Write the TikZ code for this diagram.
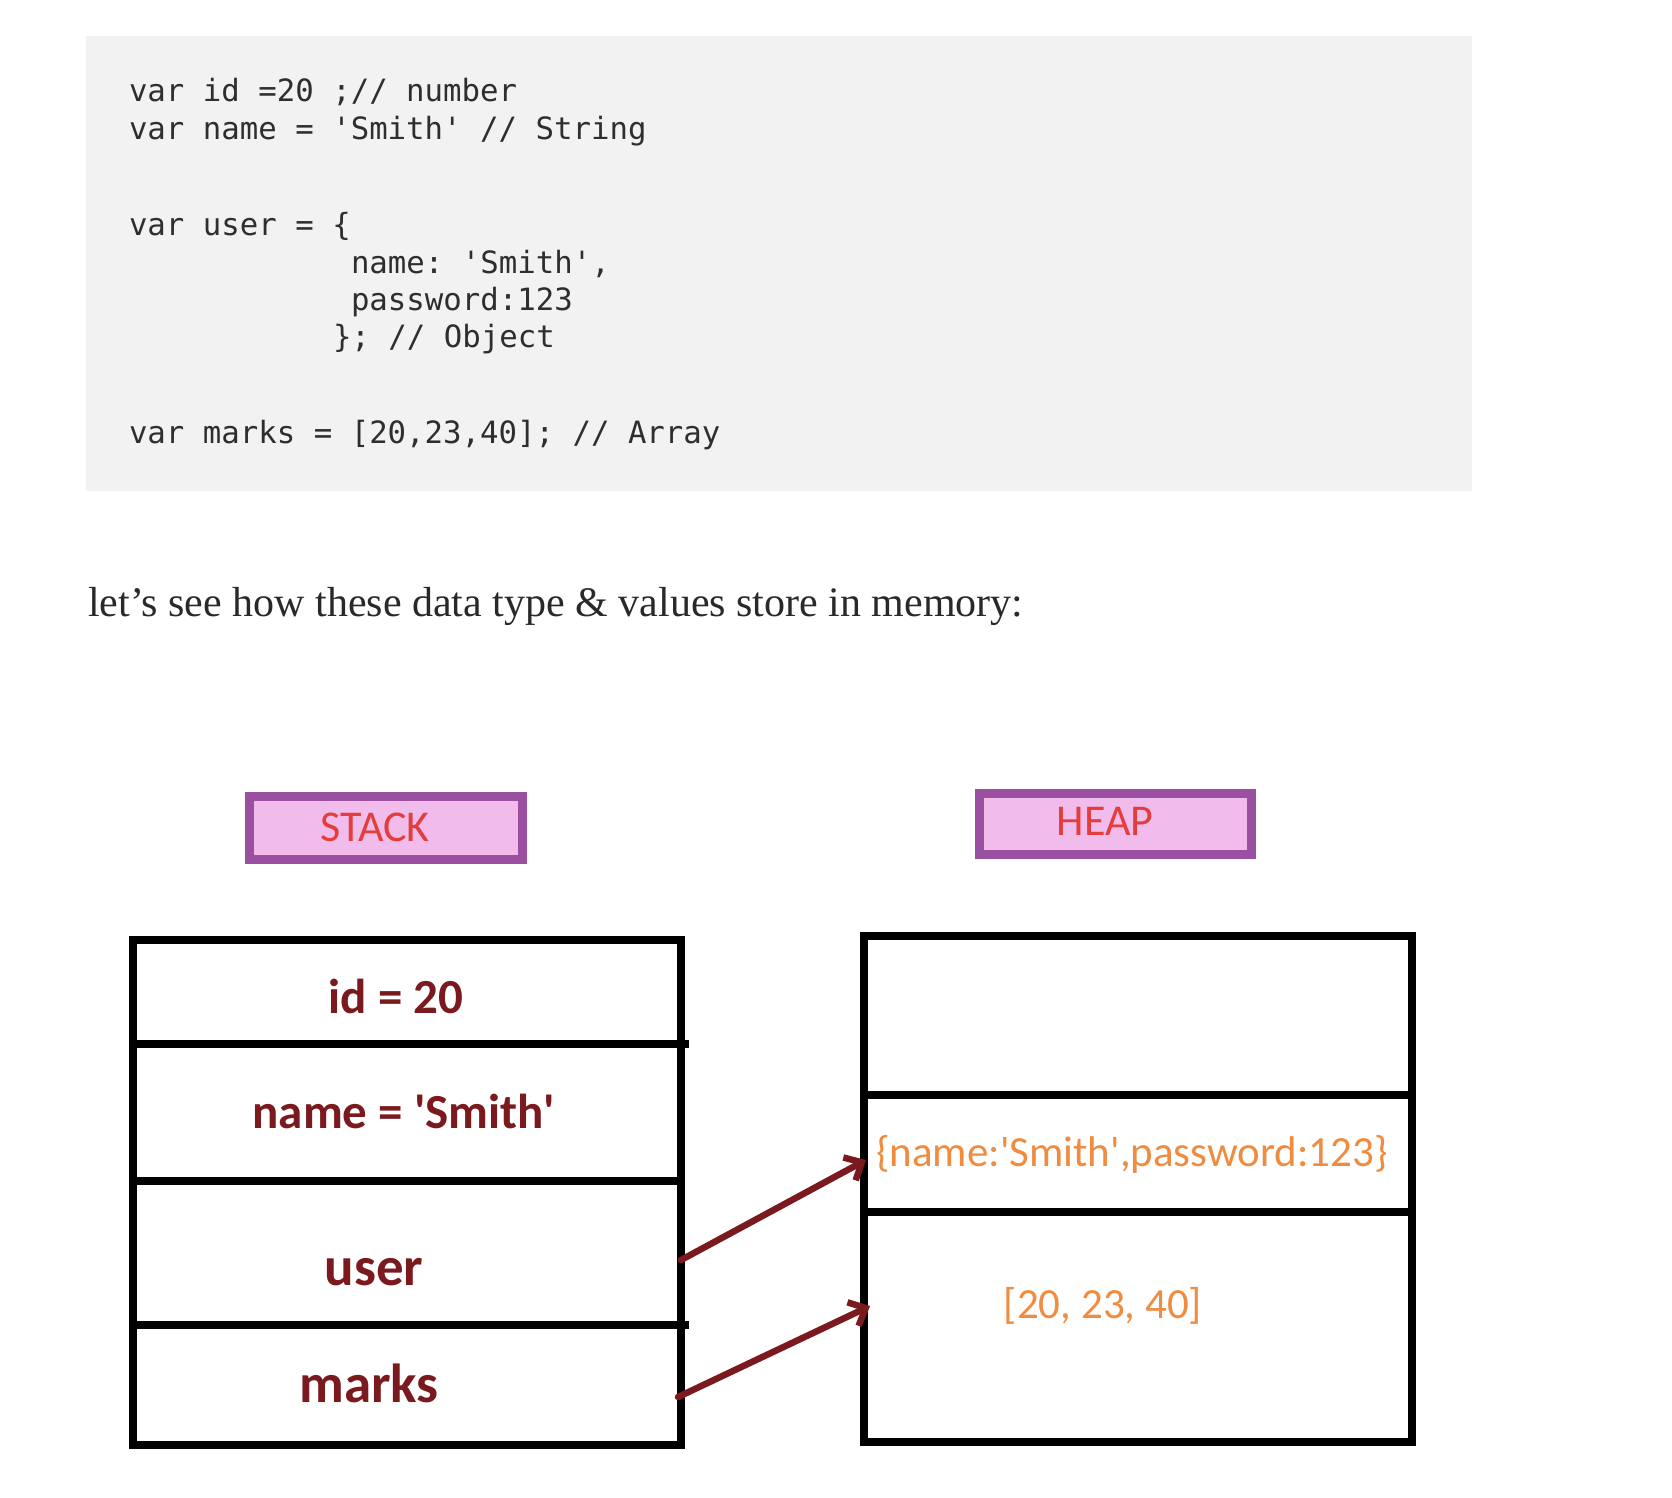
\documentclass[tikz,border=0pt]{standalone}
\usepackage{fontspec}
\setmainfont{Liberation Serif}
\newfontfamily\codefont[Ligatures=TeXOff]{DejaVu Sans Mono}
\newfontfamily\calfont[Ligatures=TeXOff]{Carlito}
\usetikzlibrary{arrows.meta}
\definecolor{codebg}{HTML}{F2F2F2}
\definecolor{codetxt}{HTML}{2E2E2E}
\definecolor{paratxt}{HTML}{292929}
\definecolor{tagborder}{HTML}{9B4FA0}
\definecolor{tagfill}{HTML}{F1BCEC}
\definecolor{tagtxt}{HTML}{E33E3B}
\definecolor{maroon}{HTML}{7B1A1E}
\definecolor{orangetxt}{HTML}{F08C40}
\tikzset{
  code/.style={anchor=base west, inner sep=0pt, outer sep=0pt, text=codetxt,
    font=\codefont\frenchspacing\fontsize{30.7}{36}\selectfont},
  para/.style={anchor=base west, inner sep=0pt, outer sep=0pt, text=paratxt,
    font=\fontsize{42}{50}\selectfont},
  tag/.style={draw=tagborder, fill=tagfill, line width=9pt, inner sep=0pt, outer sep=0pt},
  tagtext/.style={inner sep=0pt, text=tagtxt, font=\calfont\fontsize{44}{52}\selectfont},
  cell/.style={draw=black, line width=8.5pt, minimum width=548pt, inner sep=0pt, outer sep=0pt},
  stktext/.style={inner sep=0pt, text=maroon, font=\calfont\bfseries\fontsize{49}{58}\selectfont},
  bigstk/.style={stktext, font=\calfont\bfseries\fontsize{55}{64}\selectfont},
  heaptext/.style={inner sep=0pt, text=orangetxt, font=\calfont\fontsize{43}{52}\selectfont},
  arr/.style={draw=maroon, line width=6.5pt, line cap=round,
    -{Straight Barb[length=14pt,width=26pt,line width=6.5pt]}},
  nub/.style={draw=black, line width=8.5pt}
}
\begin{document}
\begin{tikzpicture}[x=1pt,y=-1pt]
\useasboundingbox[fill=white] (0,0) rectangle (1672,1498);
% code block
\fill[codebg] (86,36) rectangle (1472,491);
\node[code] (c1) at (129,102) {var id =20 ;// number};
\node[code] (c2) at (129,140) {var name = 'Smith' // String};
\node[code] (c3) at (129,235) {var user = \{};
\node[code] (c4) at (351,273) {name: 'Smith',};
\node[code] (c5) at (351,310) {password:123};
\node[code] (c6) at (333,347) {\}; // Object};
\node[code] (c7) at (129,443) {var marks = [20,23,40]; // Array};
% paragraph
\node[para] (p) at (88,616) {let’s see how these data type \& values store in memory:};
% tags
\node[tag, minimum width=273pt, minimum height=63pt] (stacktag) at (386,828) {};
\node[tagtext] (stacklbl) at (375,827) {STACK};
\node[tag, minimum width=272pt, minimum height=61pt] (heaptag) at (1115.5,824) {};
\node[tagtext] (heaplbl) at (1105,821) {HEAP};
% stack cells
\node[cell, minimum height=104pt] (s1) at (407,992) {};
\node[cell, minimum height=137pt] (s2) at (407,1112.5) {};
\node[cell, minimum height=144pt] (s3) at (407,1253) {};
\node[cell, minimum height=120pt] (s4) at (407,1385) {};
\draw[nub] (s1.south east) -- ++(8,0);
\draw[nub] (s3.south east) -- ++(8,0);
\node[stktext] (l1) at (396,996) {id = 20};
\node[stktext] (l2) at (404,1111) {name = 'Smith'};
\node[bigstk] (l3) at (374,1272) {user};
\node[bigstk] (l4) at (369,1383) {marks};
% heap cells
\node[cell, minimum height=159pt] (h1) at (1138,1015.5) {};
\node[cell, minimum height=117pt] (h2) at (1138,1153.5) {};
\node[cell, minimum height=230pt] (h3) at (1138,1327) {};
\node[heaptext] (v1) at (1132,1154) {\{name:'Smith',password:123\}};
\node[heaptext] (v2) at (1103,1306) {[20, 23, 40]};
% arrows
\draw[arr] ([yshift=-7pt]s3.east) -- ([yshift=-6.5pt,xshift=2pt]h2.west);
\draw[arr] ([yshift=-12pt,xshift=-3pt]s4.east) -- ([yshift=21pt,xshift=6pt]h3.west);
\end{tikzpicture}
\end{document}
